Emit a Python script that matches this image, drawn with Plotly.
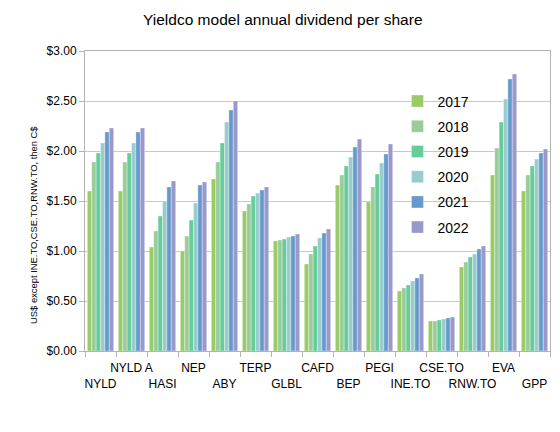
import plotly.graph_objects as go

categories = ["NYLD", "NYLD A", "HASI", "NEP", "ABY", "TERP", "GLBL", "CAFD",
              "BEP", "PEGI", "INE.TO", "CSE.TO", "RNW.TO", "EVA", "GPP"]
years = ["2017", "2018", "2019", "2020", "2021", "2022"]

v2017 = [1.60, 1.60, 1.04, 1.00, 1.72, 1.40, 1.10, 0.87, 1.66, 1.49, 0.60, 0.30, 0.84, 1.76, 1.60]
v2018 = [1.89, 1.89, 1.20, 1.15, 1.89, 1.47, 1.11, 0.97, 1.76, 1.64, 0.63, 0.30, 0.89, 2.03, 1.76]
v2019 = [1.98, 1.98, 1.35, 1.31, 2.08, 1.55, 1.12, 1.05, 1.85, 1.77, 0.66, 0.31, 0.94, 2.29, 1.85]
v2020 = [2.08, 2.08, 1.50, 1.48, 2.29, 1.58, 1.14, 1.13, 1.94, 1.88, 0.70, 0.32, 0.97, 2.52, 1.92]
v2021 = [2.19, 2.19, 1.64, 1.66, 2.41, 1.61, 1.15, 1.18, 2.04, 1.97, 0.73, 0.33, 1.02, 2.72, 1.98]
v2022 = [2.23, 2.23, 1.70, 1.69, 2.50, 1.64, 1.17, 1.22, 2.12, 2.07, 0.77, 0.34, 1.05, 2.77, 2.02]

series = [v2017, v2018, v2019, v2020, v2021, v2022]
colors = ["#99CC66", "#99CC99", "#66CC99", "#99CCCC", "#6699CC", "#9999CC"]
y_title = "US$ except INE.TO,CSE.TO,RNW.TO, then C$"

# staggered tick labels: even index on lower row, odd on upper row
ticktext = [("<br>" + c) if i % 2 == 0 else c for i, c in enumerate(categories)]

fig = go.Figure()
for yr, vals, col in zip(years, series, colors):
    fig.add_trace(go.Bar(
        x=categories, y=vals, name=yr, legendgroup=yr,
        marker=dict(color=col, line=dict(color="rgba(255,255,255,0.55)", width=0.6)),
    ))

fig.update_layout(
    width=560, height=432,
    margin=dict(l=85, r=10, t=51, b=81),
    paper_bgcolor="white", plot_bgcolor="white",
    font=dict(family="Liberation Sans, Arial, sans-serif", size=12, color="black"),
    title=dict(text="Yieldco model annual dividend per share", x=0.505, xanchor="center",
               y=0.955, yanchor="middle", font=dict(size=15.5, color="black")),
    barmode="group", bargap=0.15, bargroupgap=0,
    showlegend=True,
    legend=dict(x=0.672, y=0.885, xanchor="left", yanchor="top",
                bgcolor="rgba(0,0,0,0)", font=dict(size=14),
                tracegroupgap=4, itemwidth=30),
    annotations=[dict(text=y_title, xref="paper", yref="paper", x=-0.112, y=0.42,
                      xanchor="center", yanchor="middle", textangle=-90, showarrow=False,
                      font=dict(size=9.4, color="black"))],
)

fig.update_xaxes(
    type="category", tickmode="array", tickvals=categories, ticktext=ticktext,
    tickson="boundaries", ticks="outside", ticklen=5, tickcolor="#B3B3B3",
    showline=True, linecolor="#B3B3B3", linewidth=1, mirror=True,
    showgrid=False, tickfont=dict(size=12), tickangle=0, ticklabelstandoff=6,
)
fig.update_yaxes(
    range=[0, 3], dtick=0.5, tickformat="$.2f",
    ticks="outside", ticklen=5, tickcolor="#B3B3B3",
    showline=True, linecolor="#B3B3B3", linewidth=1, mirror=True,
    showgrid=True, gridcolor="#C8C8C8", gridwidth=1, zeroline=False,
    tickfont=dict(size=12),
)

fig.write_html("out.html", config={"displayModeBar": False},
               post_script="document.body.style.margin='0px';")
